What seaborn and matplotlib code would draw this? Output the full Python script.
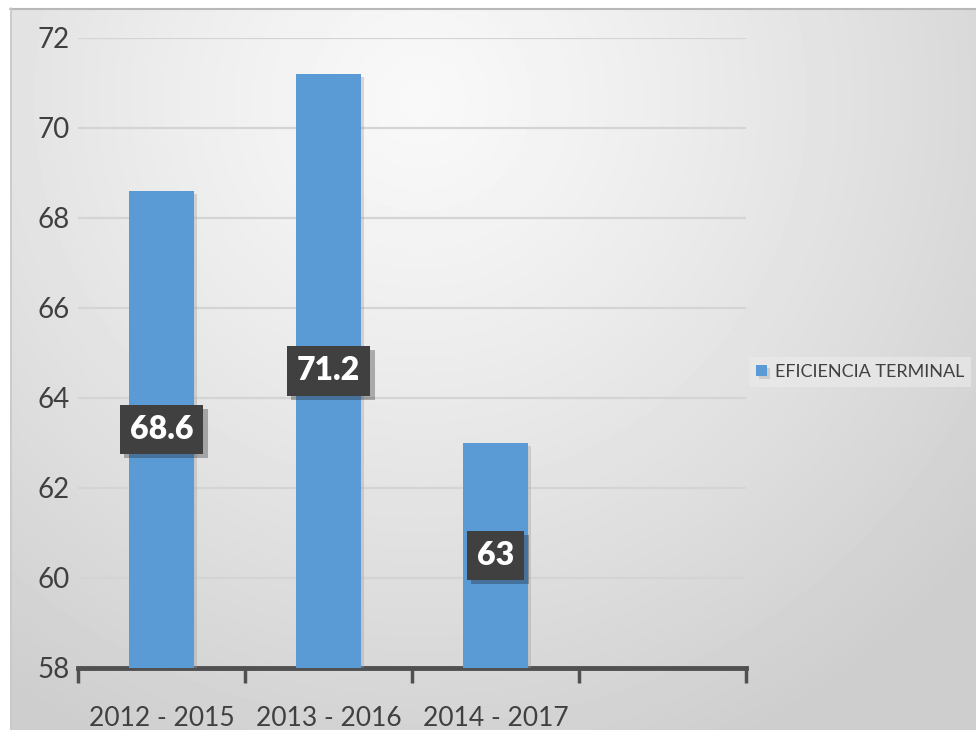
import numpy as np
import pandas as pd
import matplotlib
matplotlib.use("Agg")
import matplotlib.pyplot as plt
import matplotlib.patheffects as pe
import seaborn as sns

# datos
periodos = ["2012 - 2015", "2013 - 2016", "2014 - 2017"]
eficiencia = [68.6, 71.2, 63]
serie = "EFICIENCIA TERMINAL"

df = pd.DataFrame({"Periodo": periodos, "Valor": eficiencia})

sns.set_style("white")
plt.rcParams["font.family"] = ["Lato", "DejaVu Sans"]

fig = plt.figure(figsize=(9.76, 7.3), dpi=100)

# fondo degradado
bg = fig.add_axes([0, 0, 1, 1], zorder=-10)
h, w = 730, 976
yy, xx = np.mgrid[0:h, 0:w]
d = np.sqrt(((xx - 420) / 900) ** 2 + ((yy - 100) / 900) ** 2)
d = np.clip(d / 0.8, 0, 1)
grad = 0.975 - 0.17 * d ** 1.2
grad[:8, :] = 1.0
grad[:, :10] = 1.0
bg.imshow(grad, cmap="gray", vmin=0, vmax=1, extent=[0, w, h, 0], aspect="auto")
bg.plot([10, w], [8.5, 8.5], color="#b8b8b8", lw=1.5)
bg.plot([10.5, 10.5], [8, h], color="#c8c8c8", lw=1.2)
bg.set_xlim(0, w)
bg.set_ylim(h, 0)
bg.axis("off")

ax = fig.add_axes([78 / 976, 62 / 730, 668 / 976, 630 / 730])
ax.set_facecolor("none")

sns.barplot(data=df, x="Periodo", y="Valor", color="#5B9BD5", width=0.39,
            saturation=1, ax=ax, label=serie, zorder=3, linewidth=0, edgecolor="none")
for p in ax.patches:
    p.set_path_effects([pe.SimplePatchShadow(offset=(2, -2), shadow_rgbFace="#9a9a9a", alpha=0.35),
                        pe.Normal()])

ax.set_ylim(58, 72)
ax.set_xlim(-0.5, 3.5)
ax.set_yticks(range(58, 73, 2))
ax.tick_params(axis="y", left=False, length=0, labelsize=20, labelcolor="#404040", pad=6)
for v in range(60, 73, 2):
    ax.axhline(v, color="#d4d4d4", lw=1.6, zorder=1)

ax.set_xticks([-0.5, 0.5, 1.5, 2.5, 3.5])
ax.set_xticklabels([])
ax.set_xticks(range(len(periodos)), minor=True)
ax.set_xticklabels(periodos, minor=True)
ax.tick_params(axis="x", which="major", bottom=True, length=11, width=2.5,
               color="#505050", direction="out")
ax.tick_params(axis="x", which="minor", bottom=True, length=0, labelsize=19,
               labelcolor="#404040", pad=27)

for s in ["top", "right", "left"]:
    ax.spines[s].set_visible(False)
ax.spines["bottom"].set_color("#505050")
ax.spines["bottom"].set_linewidth(3.5)
ax.set_xlabel("")
ax.set_ylabel("")

# etiquetas de datos
for i, v in enumerate(eficiencia):
    txt = ax.text(i, (58 + v) / 2, f"{v:g}", ha="center", va="center", color="white",
                  fontsize=23, fontweight="heavy", zorder=5,
                  bbox=dict(boxstyle="square,pad=0.32", facecolor="#404040", edgecolor="none"))
    txt.get_bbox_patch().set_path_effects([pe.SimplePatchShadow(offset=(3, -3), alpha=0.3),
                                           pe.Normal()])

leg = ax.legend(loc="center left", bbox_to_anchor=(1.0, 0.47), frameon=True, fontsize=13,
                handlelength=0.6, handleheight=0.6, handletextpad=0.45, borderaxespad=0.15,
                borderpad=0.4, fancybox=False, labelcolor="#404040")
leg.get_frame().set_facecolor("#ececec")
leg.get_frame().set_edgecolor("none")
leg.get_frame().set_alpha(0.6)

fig.savefig("out.png", dpi=100)
